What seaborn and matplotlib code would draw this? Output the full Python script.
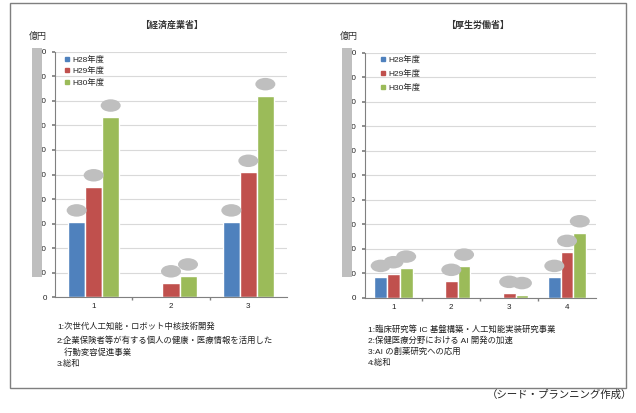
import matplotlib
matplotlib.use("Agg")
import matplotlib.pyplot as plt
import seaborn as sns
import pandas as pd
from matplotlib.patches import Ellipse, Rectangle
from matplotlib.lines import Line2D

# ---------------- data ----------------
years = ["H28年度", "H29年度", "H30年度"]
colors = ["#4F81BD", "#C0504D", "#9BBB59"]

meti_title = "【経済産業省】"
meti_cats = ["1", "2", "3"]
meti_h28 = [30.7, 0.0, 30.7]
meti_h29 = [45.0, 5.9, 50.9]
meti_h30 = [73.4, 8.7, 82.1]
meti_notes = ["1:次世代人工知能・ロボット中核技術開発",
              "2:企業保険者等が有する個人の健康・医療情報を活用した",
              "   行動変容促進事業",
              "3:総和"]

mhlw_title = "【厚生労働省】"
mhlw_cats = ["1", "2", "3", "4"]
mhlw_h28 = [8.4, 0.0, 0.0, 8.4]
mhlw_h29 = [9.9, 6.8, 1.9, 18.6]
mhlw_h30 = [12.2, 13.0, 1.4, 26.6]
mhlw_notes = ["1:臨床研究等 IC 基盤構築・人工知能実装研究事業",
              "2:保健医療分野における AI 開発の加速",
              "3:AI の創薬研究への応用",
              "4:総和"]

yticks = [0, 10, 20, 30, 40, 50, 60, 70, 80, 90, 100]
unit_label = "億円"
source = "（シード・プランニング作成）"

# ---------------- style ----------------
sns.set_theme(style="white")
plt.rcParams["font.family"] = ["Liberation Sans", "Noto Sans CJK JP", "DejaVu Sans"]

W, H = 636, 413
fig = plt.figure(figsize=(W / 100, H / 100), dpi=100)
fig.patch.set_facecolor("white")


def fx(px):
    return px / W


def fy(py):
    return 1 - py / H


def make_df(cats, a, b, c):
    rows = []
    for i, cat in enumerate(cats):
        for yr, vals in zip(years, (a, b, c)):
            rows.append({"cat": cat, "year": yr, "value": vals[i]})
    return pd.DataFrame(rows)


def panel(rect, cats, a, b, c, title, notes, note_pos, title_x,
          unit_x, gray_x, legend_xy, legend_spacing, ell_w_px):
    left, top, right, bottom = rect
    ax = fig.add_axes([fx(left), fy(bottom), fx(right - left), (bottom - top) / H])
    df = make_df(cats, a, b, c)
    sns.barplot(data=df, x="cat", y="value", hue="year", hue_order=years,
                palette=colors, width=0.66, saturation=1, ax=ax,
                legend=False, errorbar=None)
    n = len(cats)
    ax.set_xlim(-0.5, n - 0.5)
    ax.set_ylim(0, 100)
    ax.set_yticks(yticks)
    ax.set_yticklabels([str(t) for t in yticks], fontsize=5.8, color="#222222")
    ax.set_xlabel("")
    ax.set_ylabel("")
    ax.tick_params(axis="x", which="major", length=0, pad=4, labelsize=5.8,
                   labelcolor="#222222")
    ax.set_xticks([i + 0.5 for i in range(n - 1)], minor=True)
    ax.tick_params(axis="x", which="minor", length=2.5, color="#808080",
                   direction="out", bottom=True)
    ax.tick_params(axis="y", length=2.5, color="#808080", direction="out",
                   left=True, pad=3.5)
    ax.grid(axis="y", color="#D9D9D9", linewidth=0.8)
    ax.set_axisbelow(True)
    for s in ["top", "right"]:
        ax.spines[s].set_visible(False)
    for s in ["left", "bottom"]:
        ax.spines[s].set_color("#808080")
        ax.spines[s].set_linewidth(0.8)

    # gray ellipses hiding the data labels
    px_per_cat = (right - left) / n
    px_per_unit = (bottom - top) / 100.0
    ew = ell_w_px / px_per_cat
    eh = 12.5 / px_per_unit
    off = 11.5 / px_per_unit
    for cont in ax.containers:
        for bar in cont:
            h = bar.get_height()
            if h <= 0:
                continue
            cx = bar.get_x() + bar.get_width() / 2
            ax.add_patch(Ellipse((cx, h + off), ew, eh, facecolor="#BFBFBF",
                                 edgecolor="none", zorder=5, clip_on=False))

    # legend
    handles = [Line2D([0], [0], marker="s", linestyle="none", markersize=3,
                      markerfacecolor=col, markeredgecolor=col) for col in colors]
    fig.legend(handles, years, loc="upper left",
               bbox_to_anchor=(fx(legend_xy[0]), fy(legend_xy[1])),
               frameon=False, fontsize=6, handlelength=0.6, handletextpad=0.4,
               borderpad=0, borderaxespad=0, labelspacing=legend_spacing)

    # title & unit
    fig.text(fx(title_x), fy(25), title, ha="center", va="center",
             fontsize=6.5, fontweight="bold", color="#333333")
    fig.text(fx(unit_x), fy(36), unit_label, ha="left", va="center",
             fontsize=6.5, color="#333333")

    # gray bar hiding tick labels
    fig.add_artist(Rectangle((fx(gray_x[0]), fy(277)), fx(gray_x[1] - gray_x[0]),
                             (277 - 48) / H, transform=fig.transFigure,
                             facecolor="#BFBFBF", edgecolor="none", zorder=10))

    # notes
    for txt, (nx, ny) in zip(notes, note_pos):
        fig.text(fx(nx), fy(ny), txt, ha="left", va="center", fontsize=6,
                 color="#222222")
    return ax


panel((55, 51.7, 287, 297.3), meti_cats, meti_h28, meti_h29, meti_h30,
      meti_title, meti_notes,
      [(57, 327), (57, 341), (57, 352.5), (57, 363.5)],
      title_x=172, unit_x=29, gray_x=(31.7, 41.7), legend_xy=(64, 56),
      legend_spacing=0.35, ell_w_px=20)

panel((364.5, 52.7, 596, 298), mhlw_cats, mhlw_h28, mhlw_h29, mhlw_h30,
      mhlw_title, mhlw_notes,
      [(368, 329), (368, 340.7), (368, 352), (368, 363)],
      title_x=478, unit_x=340, gray_x=(341.7, 351.7), legend_xy=(380, 56),
      legend_spacing=0.65, ell_w_px=20)

# outer frame
fig.add_artist(Rectangle((fx(10), fy(388)), fx(616), (388 - 3) / H,
                         transform=fig.transFigure, facecolor="none",
                         edgecolor="#7F7F7F", linewidth=1, zorder=0))

fig.text(fx(632), fy(395), source, ha="right", va="center", fontsize=7.5,
         color="#222222")

fig.savefig("out.png", dpi=100)
